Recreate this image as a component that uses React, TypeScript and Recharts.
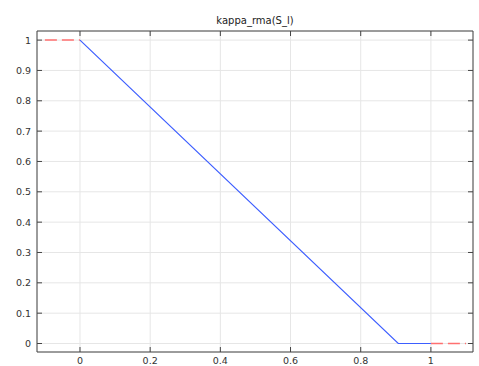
import { CartesianGrid, Line, LineChart, XAxis, YAxis } from 'recharts';

const sVals = [0, 0.907, 1];
const kappaVals = [1, 0, 0];
const leftExtS = [-0.1, 0];
const leftExtK = [1, 1];
const rightExtS = [1, 1.1];
const rightExtK = [0, 0];
const xTicks = [0, 0.2, 0.4, 0.6, 0.8, 1];
const yTicks = [0, 0.1, 0.2, 0.3, 0.4, 0.5, 0.6, 0.7, 0.8, 0.9, 1];

const mainData = sVals.map((s, i) => ({ s, k: kappaVals[i] }));
const leftData = leftExtS.map((s, i) => ({ s, k: leftExtK[i] }));
const rightData = rightExtS.map((s, i) => ({ s, k: rightExtK[i] }));

const FRAME = '#444444';
const TEXT = '#333333';
const FONT = 'DejaVu Sans, sans-serif';

const BottomTick = (props: any) => {
  const { x, y, payload } = props;
  return (
    <g>
      <line x1={x} x2={x} y1={y} y2={y - 5} stroke={FRAME} />
      <text x={x} y={y + 11.5} textAnchor="middle" fontSize={9.5} fill={TEXT} fontFamily={FONT}>
        {payload.value}
      </text>
    </g>
  );
};

const TopTick = (props: any) => {
  const { x, y } = props;
  return <line x1={x} x2={x} y1={y} y2={y + 5} stroke={FRAME} />;
};

const LeftTick = (props: any) => {
  const { x, y, payload } = props;
  return (
    <g>
      <line x1={x} x2={x + 5} y1={y} y2={y} stroke={FRAME} />
      <text x={x - 6} y={y + 3.5} textAnchor="end" fontSize={9.5} fill={TEXT} fontFamily={FONT}>
        {payload.value}
      </text>
    </g>
  );
};

const RightTick = (props: any) => {
  const { x, y } = props;
  return <line x1={x} x2={x - 5} y1={y} y2={y} stroke={FRAME} />;
};

export default function App() {
  const xDomain = [-0.1225, 1.12];
  const yDomain = [-0.028, 1.03];
  return (
    <div style={{ position: 'absolute', left: 0, top: 0, width: 479, height: 366, background: '#fff' }}>
      <div
        style={{
          position: 'absolute',
          top: 15,
          left: 37,
          width: 436,
          textAlign: 'center',
          fontSize: 10,
          fontFamily: FONT,
          color: '#222',
        }}
      >
        kappa_rma(S_l)
      </div>
      <LineChart width={479} height={366} margin={{ top: 30, right: 5, bottom: 0, left: 0 }}>
        <CartesianGrid stroke="#e6e6e6" strokeWidth={1} />
        <XAxis
          dataKey="s"
          type="number"
          domain={xDomain}
          ticks={xTicks}
          allowDataOverflow
          height={14}
          tickSize={0}
          tickMargin={0}
          tickLine={false}
          axisLine={{ stroke: FRAME }}
          tick={<BottomTick />}
          interval={0}
        />
        <XAxis
          xAxisId="top"
          orientation="top"
          dataKey="s"
          type="number"
          domain={xDomain}
          ticks={xTicks}
          allowDataOverflow
          height={1}
          tickSize={0}
          tickMargin={0}
          tickLine={false}
          axisLine={{ stroke: FRAME }}
          tick={<TopTick />}
          interval={0}
        />
        <YAxis
          type="number"
          domain={yDomain}
          ticks={yTicks}
          allowDataOverflow
          width={37}
          tickSize={0}
          tickMargin={0}
          tickLine={false}
          axisLine={{ stroke: FRAME }}
          tick={<LeftTick />}
          interval={0}
        />
        <YAxis
          yAxisId="right"
          orientation="right"
          type="number"
          domain={yDomain}
          ticks={yTicks}
          allowDataOverflow
          width={1}
          tickSize={0}
          tickMargin={0}
          tickLine={false}
          axisLine={{ stroke: FRAME }}
          tick={<RightTick />}
          interval={0}
        />
        <Line
          data={leftData}
          dataKey="k"
          type="linear"
          stroke="#ff7070"
          strokeWidth={1.5}
          strokeDasharray="12 5"
          dot={false}
          isAnimationActive={false}
        />
        <Line
          data={rightData}
          dataKey="k"
          type="linear"
          stroke="#ff7070"
          strokeWidth={1.5}
          strokeDasharray="12 5"
          dot={false}
          isAnimationActive={false}
        />
        <Line
          data={mainData}
          dataKey="k"
          type="linear"
          stroke="#3d5eff"
          strokeWidth={1.2}
          dot={false}
          isAnimationActive={false}
        />
        <Line
          data={mainData}
          dataKey="k"
          xAxisId="top"
          yAxisId="right"
          stroke="none"
          dot={false}
          legendType="none"
          isAnimationActive={false}
        />
      </LineChart>
    </div>
  );
}
